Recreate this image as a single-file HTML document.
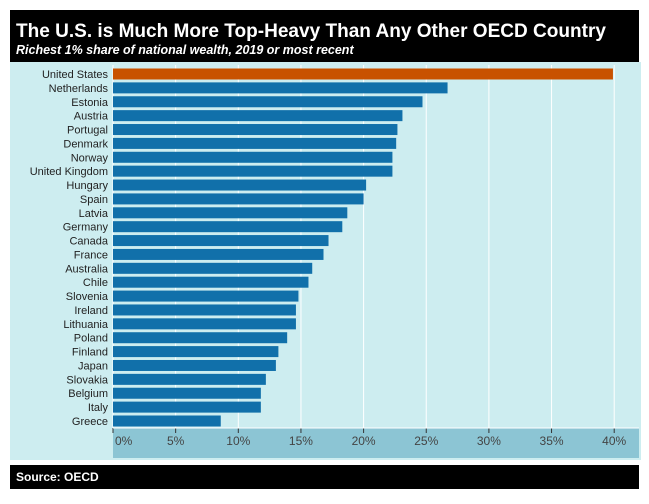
<!DOCTYPE html>
<html><head><meta charset="utf-8"><style>
body{margin:0;background:#fff;width:649px;height:499px;overflow:hidden;font-family:"Liberation Sans",sans-serif}
</style></head><body>
<svg width="649" height="499">
<rect x="10" y="62" width="631" height="398" fill="#cdedf0"/>
<rect x="10" y="10" width="629" height="52" fill="#000"/>
<text x="16" y="37" fill="#fff" font-size="19" font-weight="bold" textLength="590" lengthAdjust="spacingAndGlyphs">The U.S. is Much More Top-Heavy Than Any Other OECD Country</text>
<text x="16" y="54" fill="#fff" font-size="12.5" font-weight="bold" font-style="italic">Richest 1% share of national wealth, 2019 or most recent</text>
<rect x="113" y="428" width="526" height="30" fill="#8cc5d4"/>
<g id="grid"></g><g id="bars"></g><g id="axis"></g>
<rect x="10" y="465" width="629" height="24" fill="#000"/>
<text x="16" y="481" fill="#fff" font-size="12" font-weight="bold">Source: OECD</text>
</svg>
<script>
const countries=["United States","Netherlands","Estonia","Austria","Portugal","Denmark","Norway","United Kingdom","Hungary","Spain","Latvia","Germany","Canada","France","Australia","Chile","Slovenia","Ireland","Lithuania","Poland","Finland","Japan","Slovakia","Belgium","Italy","Greece"];
const values=[39.9,26.7,24.7,23.1,22.7,22.6,22.3,22.3,20.2,20.0,18.7,18.3,17.2,16.8,15.9,15.6,14.8,14.6,14.6,13.9,13.2,13.0,12.2,11.8,11.8,8.6];
const ticks=[0,5,10,15,20,25,30,35,40];
const ns="http://www.w3.org/2000/svg";
const x=v=>113+v*12.53;
const y=i=>74+i*13.88;
function mk(t,a,p){const e=document.createElementNS(ns,t);for(const k in a)e.setAttribute(k,a[k]);p.appendChild(e);return e;}
const G=document.getElementById('grid'),B=document.getElementById('bars'),A=document.getElementById('axis');
ticks.forEach(t=>{
 const l=mk('line',{x1:x(t),x2:x(t),y1:65,y2:428,stroke:'#fff','stroke-width':1},G);
 
 
 const tk=mk('line',{x1:x(t),x2:x(t),y1:428,y2:433,stroke:'#333','stroke-width':1},A);
 
 
 const tx=mk('text',{x:t===0?x(t)+2:x(t),y:445,'font-size':12,fill:'#444','text-anchor':t===0?'start':'middle'},A);
 tx.textContent=t+'%';
 
 
});
mk('line',{x1:113,x2:639,y1:428,y2:428,stroke:'#fff','stroke-width':1},A);
countries.forEach((c,i)=>{
 const r=mk('rect',{x:x(0),y:y(i)-5.5,width:x(values[i])-x(0),height:11,fill:i===0?'#c85200':'#1170aa'},B);
 
 
 const t=mk('text',{x:108,y:y(i)+4,'font-size':11,fill:'#222','text-anchor':'end'},B);
 t.textContent=c;
 
 
});
</script>
</body></html>
